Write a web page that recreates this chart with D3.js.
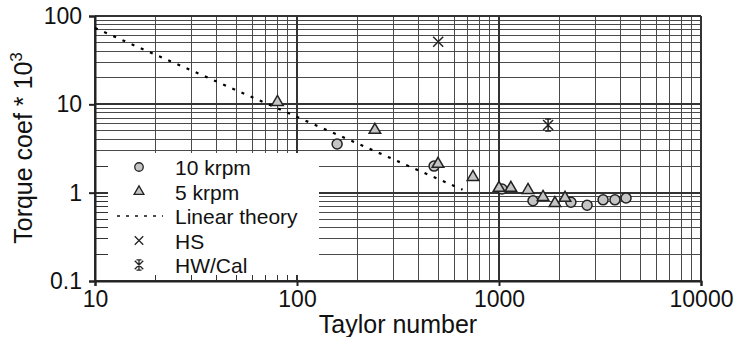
<!DOCTYPE html>
<html>
<head>
<meta charset="utf-8">
<script src="https://cdn.jsdelivr.net/npm/d3@7"></script>
<style>
  body { margin: 0; background: #fff; }
  svg { display: block; font-family: "Liberation Sans", Arial, sans-serif; }
</style>
</head>
<body>
<div id="chart-area"></div>
<script>
// data
const krpm10X = [158, 477, 1035, 1473, 2270, 2730, 3275, 3750, 4256];
const krpm10Y = [3.56, 2.0, 1.10, 0.81, 0.78, 0.72, 0.83, 0.83, 0.87];
const krpm5X = [80, 243, 499, 743, 1000, 1145, 1392, 1652, 1892, 2123];
const krpm5Y = [10.6, 5.12, 2.11, 1.50, 1.13, 1.13, 1.07, 0.89, 0.76, 0.87];
const theoryX = [10, 660];
const theoryY = [73, 1.08];
const hsX = [500];
const hsY = [51];
const hwX = [1750];
const hwY = [5.83];
const xTicks = [10, 100, 1000, 10000];
const yTicks = [0.1, 1, 10, 100];
const legendNames = ['10 krpm', '5 krpm', 'Linear theory', 'HS', 'HW/Cal'];

// margins
const margin = { left: 95, right: 34, top: 16, bottom: 56 };
const width = 735 - margin.left - margin.right;
const height = 337 - margin.top - margin.bottom;

const svg = d3.select('#chart-area')
    .append('svg')
        .attr('width', 735)
        .attr('height', 337);

const g = svg.append('g')
    .attr('transform', `translate(${margin.left}, ${margin.top})`);

const x = d3.scaleLog().domain([10, 10000]).range([0, width]);
const y = d3.scaleLog().domain([0.1, 100]).range([height, 0]);

const xMinor = x.ticks().filter(v => !xTicks.includes(v));
const yMinor = y.ticks().filter(v => !yTicks.includes(v));

// grid
const grid = g.append('g').attr('shape-rendering', 'crispEdges');
grid.selectAll('.vx')
    .data(xMinor)
    .enter().append('line')
        .attr('x1', d => x(d)).attr('x2', d => x(d))
        .attr('y1', 0).attr('y2', height)
        .attr('stroke', '#4a4a4a').attr('stroke-width', 1);
grid.selectAll('.hy')
    .data(yMinor)
    .enter().append('line')
        .attr('x1', 0).attr('x2', width)
        .attr('y1', d => y(d)).attr('y2', d => y(d))
        .attr('stroke', '#4a4a4a').attr('stroke-width', 1);
grid.selectAll('.vX')
    .data(xTicks)
    .enter().append('line')
        .attr('x1', d => x(d)).attr('x2', d => x(d))
        .attr('y1', 0).attr('y2', height)
        .attr('stroke', '#333').attr('stroke-width', 2);
grid.selectAll('.hY')
    .data(yTicks)
    .enter().append('line')
        .attr('x1', 0).attr('x2', width)
        .attr('y1', d => y(d)).attr('y2', d => y(d))
        .attr('stroke', '#333').attr('stroke-width', 2);

// legend box covers the grid
const legY = 137, legW = 223, legH = height - 137;
g.append('rect')
    .attr('x', 1).attr('y', legY)
    .attr('width', legW).attr('height', legH - 1)
    .attr('fill', '#fff');

// minor ticks inside the legend area
const ticks = g.append('g').attr('shape-rendering', 'crispEdges').attr('stroke', '#333');
ticks.selectAll('.ty')
    .data(yMinor.filter(v => y(v) > legY))
    .enter().append('line')
        .attr('x1', 0).attr('x2', 13)
        .attr('y1', d => y(d)).attr('y2', d => y(d));
ticks.selectAll('.tx')
    .data(xMinor.filter(v => x(v) < legW))
    .enter().append('line')
        .attr('x1', d => x(d)).attr('x2', d => x(d))
        .attr('y1', height - 6).attr('y2', height);
ticks.append('line').attr('x1', 0).attr('x2', 13).attr('y1', y(1)).attr('y2', y(1)).attr('stroke-width', 2);
ticks.append('line').attr('x1', 0).attr('x2', 13).attr('y1', y(0.1)).attr('y2', y(0.1)).attr('stroke-width', 2);
ticks.append('line').attr('x1', x(100)).attr('x2', x(100)).attr('y1', height - 6).attr('y2', height).attr('stroke-width', 2);

// axes
const xAxisCall = d3.axisBottom(x)
    .tickValues(xTicks)
    .tickSize(5)
    .tickPadding(5)
    .tickFormat(d => String(d));
const xAxis = g.append('g')
    .attr('class', 'x axis')
    .attr('transform', `translate(0, ${height})`)
    .call(xAxisCall);

const yAxisCall = d3.axisLeft(y)
    .tickValues(yTicks)
    .tickSize(6)
    .tickPadding(7)
    .tickFormat(d => String(d));
const yAxis = g.append('g')
    .attr('class', 'y axis')
    .call(yAxisCall);

[xAxis, yAxis].forEach(a => {
    a.select('.domain').attr('stroke', '#222').attr('stroke-width', 2);
    a.selectAll('.tick line').attr('stroke', '#222').attr('stroke-width', 2);
    a.selectAll('.tick text')
        .attr('font-size', '23px')
        .attr('fill', '#111')
        .attr('font-family', '"Liberation Sans", Arial, sans-serif');
});

// x label
g.append('text')
    .attr('x', width / 2)
    .attr('y', height + 52)
    .attr('font-size', '25px')
    .attr('text-anchor', 'middle')
    .attr('fill', '#111')
    .text('Taylor number');

// y label
const yLabel = g.append('text')
    .attr('x', -132)
    .attr('y', -63)
    .attr('font-size', '25px')
    .attr('text-anchor', 'middle')
    .attr('fill', '#111')
    .attr('transform', 'rotate(-90)');
yLabel.append('tspan').text('Torque coef * 10');
yLabel.append('tspan').attr('font-size', '17px').attr('dy', -10).text('3');

// linear theory
const theory = theoryX.map((v, i) => [v, theoryY[i]]);
g.append('path')
    .datum(theory)
    .attr('d', d3.line().x(d => x(d[0])).y(d => y(d[1])))
    .attr('fill', 'none')
    .attr('stroke', '#000')
    .attr('stroke-width', 2.2)
    .attr('stroke-dasharray', '3,7');

const markFill = '#c4c4c4';
const markStroke = '#222';

function drawCircle(sel) {
    sel.append('circle').attr('r', 5)
        .attr('fill', markFill).attr('stroke', markStroke).attr('stroke-width', 1.5);
}
function drawTriangle(sel) {
    sel.append('path').attr('d', d3.symbol(d3.symbolTriangle, 58)())
        .attr('fill', markFill).attr('stroke', markStroke).attr('stroke-width', 1.5);
}
function drawCross(sel) {
    sel.append('path').attr('d', 'M-5,-5L5,5M-5,5L5,-5')
        .attr('stroke', markStroke).attr('stroke-width', 1.5).attr('fill', 'none');
}
function drawStar(sel) {
    sel.append('path').attr('d', 'M-5,-5L5,5M-5,5L5,-5M0,-6L0,6M-3,-6L3,-6M-3,6L3,6')
        .attr('stroke', markStroke).attr('stroke-width', 1.5).attr('fill', 'none');
}

// points
function series(xs, ys, draw) {
    const pts = xs.map((v, i) => [v, ys[i]]);
    g.selectAll(null)
        .data(pts)
        .enter().append('g')
            .attr('transform', d => `translate(${x(d[0])}, ${y(d[1])})`)
            .each(function() { draw(d3.select(this)); });
}
series(krpm10X, krpm10Y, drawCircle);
series(krpm5X, krpm5Y, drawTriangle);
series(hsX, hsY, drawCross);
series(hwX, hwY, drawStar);

// legend
const legend = g.append('g').attr('transform', `translate(44, ${legY + 14})`);
const drawers = [drawCircle, drawTriangle, null, drawCross, drawStar];
legendNames.forEach((name, i) => {
    const row = legend.append('g').attr('transform', `translate(0, ${i * 24.5})`);
    if (drawers[i]) {
        const m = row.append('g').attr('transform', 'scale(0.85)');
        drawers[i](m);
    } else {
        row.append('line')
            .attr('x1', -22).attr('x2', 24)
            .attr('stroke', '#111').attr('stroke-width', 1.5)
            .attr('stroke-dasharray', '3,6');
    }
    row.append('text')
        .attr('x', 36)
        .attr('y', 8)
        .attr('font-size', '21px')
        .attr('fill', '#111')
        .text(name);
});
</script>
</body>
</html>
